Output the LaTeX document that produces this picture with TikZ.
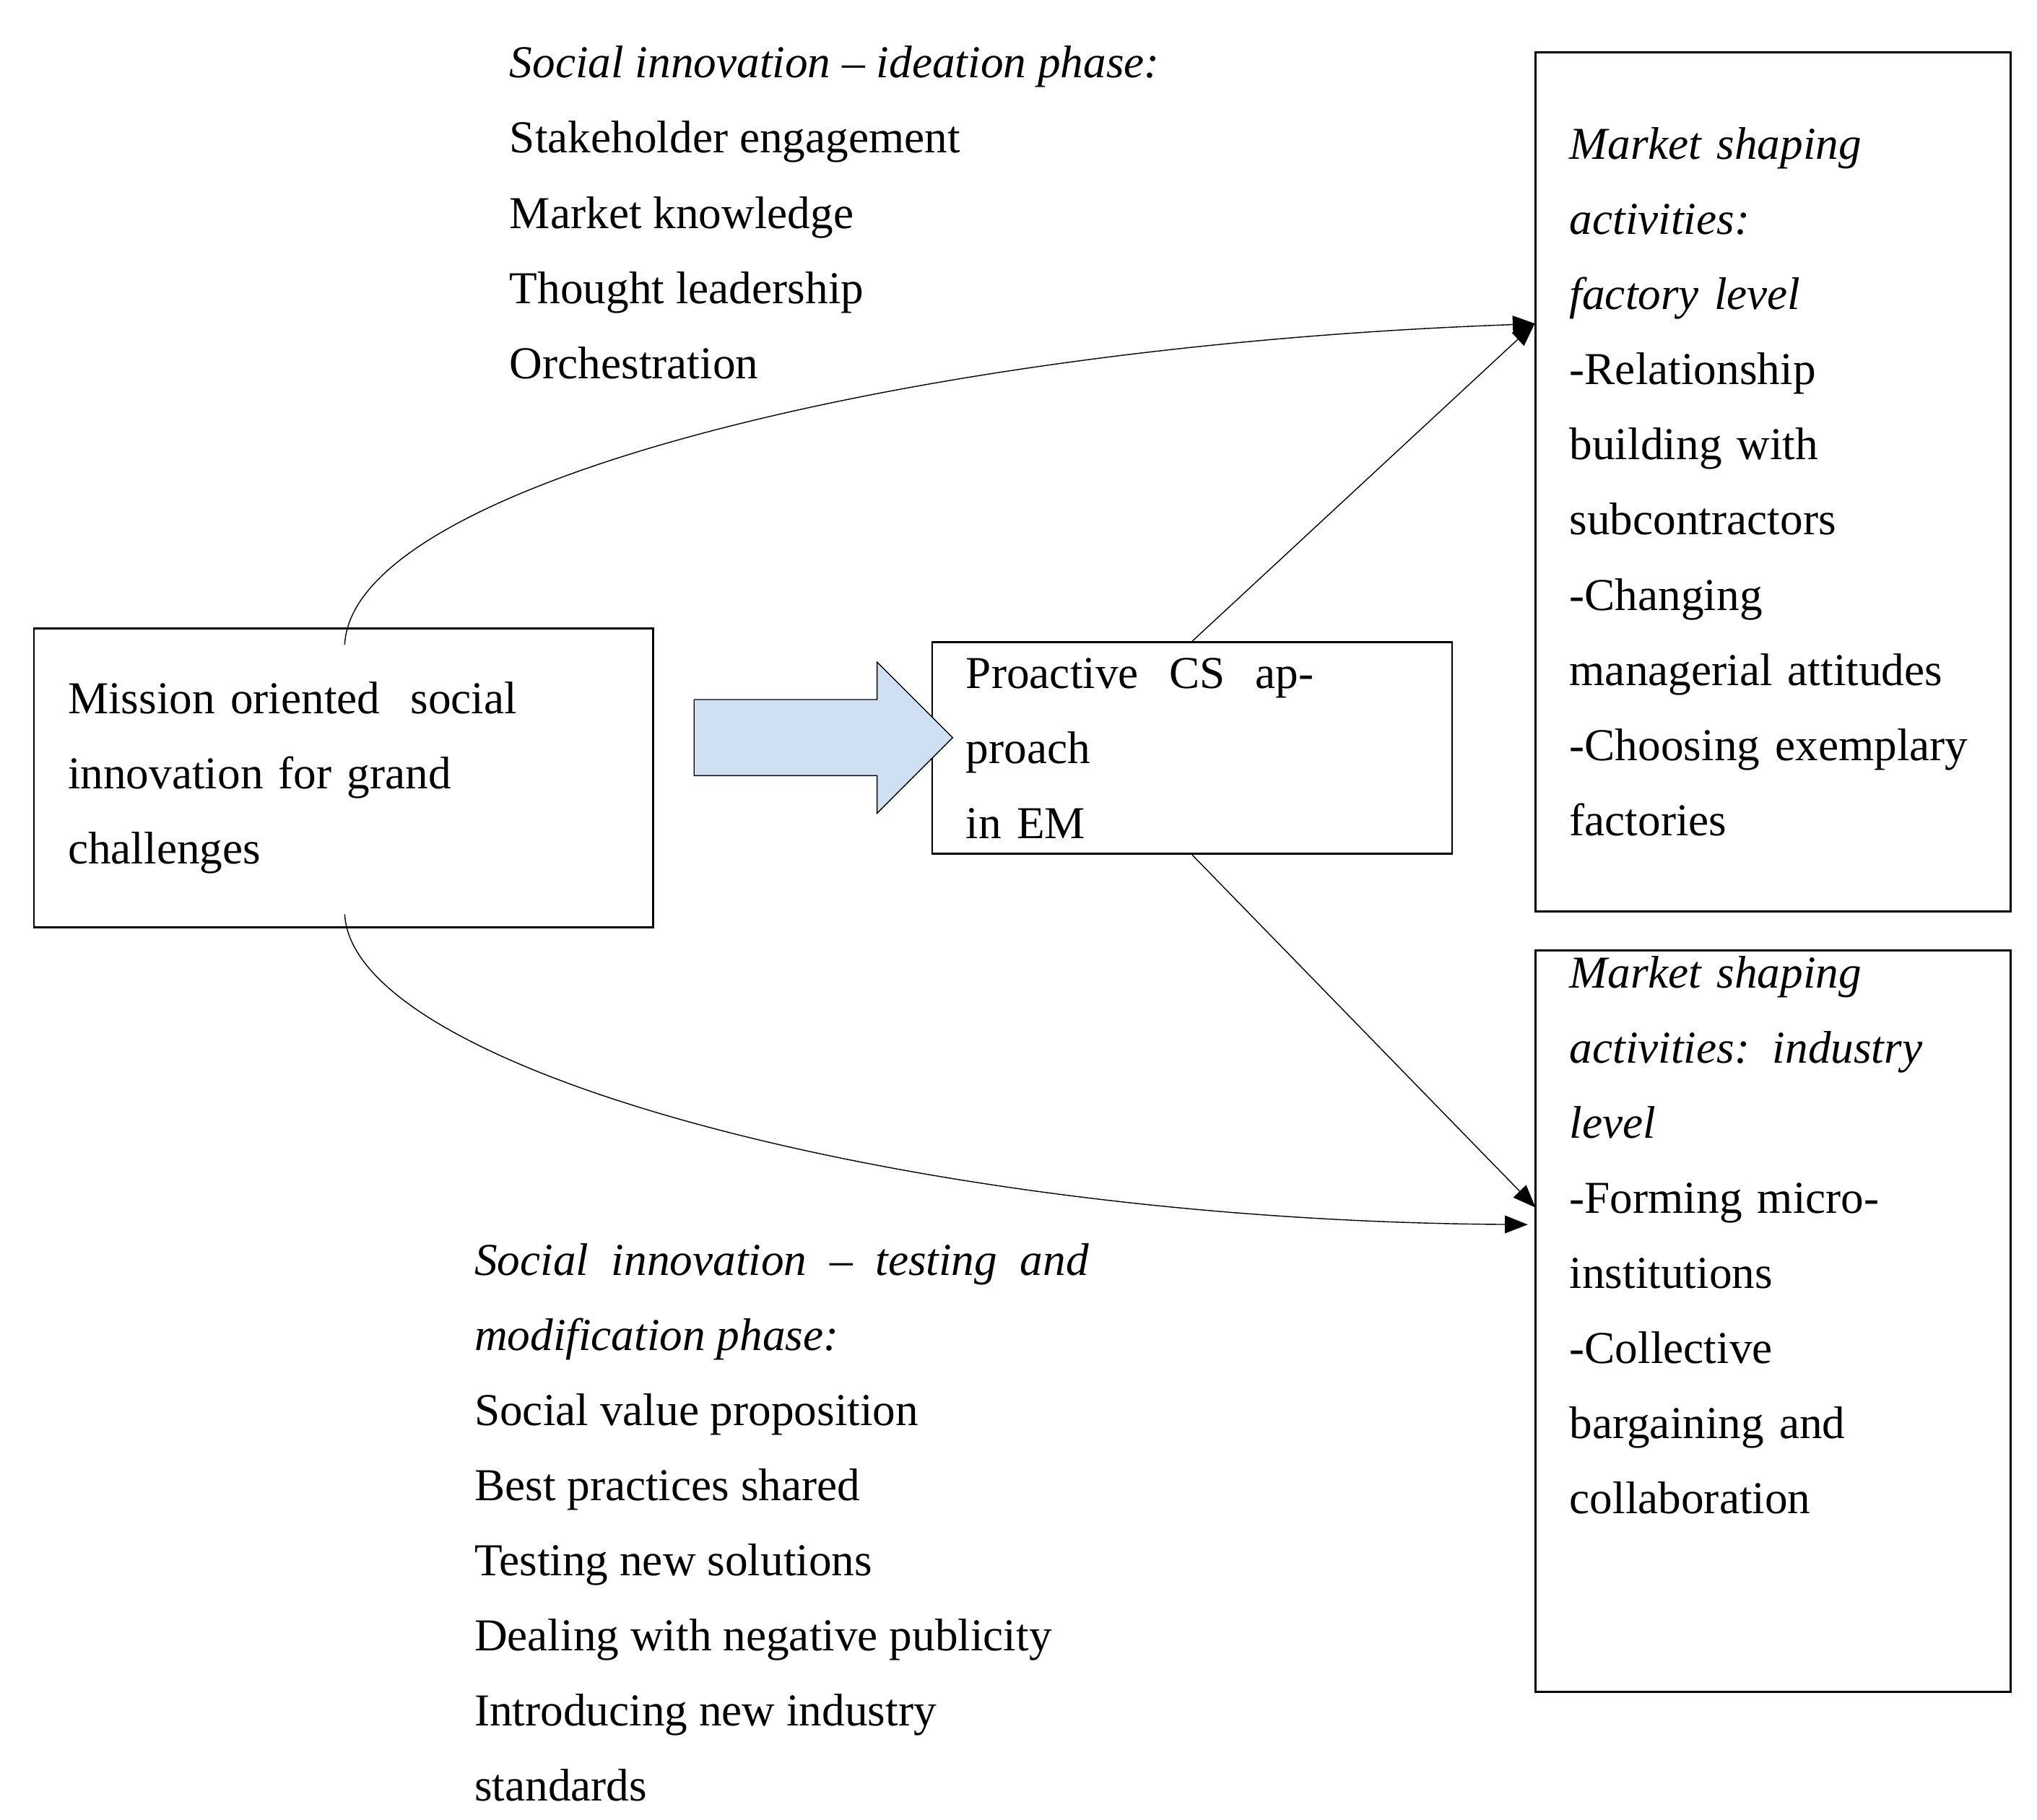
\documentclass[tikz,border=0pt]{standalone}
\usepackage{fontspec}
\setmainfont{Liberation Serif}
\usetikzlibrary{arrows.meta,shapes.arrows}
\definecolor{flowblue}{RGB}{207,224,242}
\begin{document}
\begin{tikzpicture}[x=0.01808cm,y=-0.01808cm]
  \tikzset{every node/.style={font=\fontsize{18}{29.6}\selectfont},
    box/.style={draw,thick,inner xsep=0.47cm,inner ysep=0pt,align=left},
    txt/.style={align=left,anchor=north west,inner sep=0pt},
    link/.style={thin,-{Triangle[length=9pt,width=7pt]}}}
  \useasboundingbox (0,0) rectangle (1560,1394);

  % Main boxes
  \node (mission) [box, minimum width=8.57cm, minimum height=4.14cm, text width=7.63cm] at (263,596)
        {Mission oriented \ social\\innovation for grand\\challenges};
  \node (proactive) [box, minimum width=7.2cm, minimum height=2.93cm, text width=6.26cm] at (913,573)
        {Proactive \ CS \ approach\\in EM};
  \node (factory) [box, minimum width=6.58cm, minimum height=11.9cm, text width=5.64cm] at (1358,369)
        {\textit{Market shaping}\\\textit{activities:}\\\textit{factory level}\\-Relationship\\building with\\subcontractors\\-Changing\\managerial attitudes\\-Choosing exemplary\\factories};
  \node (industry) [box, minimum width=6.58cm, minimum height=10.27cm, text width=5.64cm] at (1358,1012)
        {\textit{Market shaping}\\\textit{activities: industry}\\\textit{level}\\-Forming micro-\\institutions\\-Collective\\bargaining and\\collaboration\\[29.6pt]\strut};

  % Phase texts
  \node (ideation) [txt] at (390,35)
        {\textit{Social innovation -- ideation phase:}\\Stakeholder engagement\\Market knowledge\\Thought leadership\\Orchestration};
  \node (testing) [txt] at (363,952)
        {\textit{Social \ innovation \ -- \ testing \ and}\\\textit{modification phase:}\\Social value proposition\\Best practices shared\\Testing new solutions\\Dealing with negative publicity\\Introducing new industry\\standards};

  % Arrows
  \node (flow) [single arrow, draw, thin, fill=flowblue, minimum height=3.58cm,
        inner xsep=0pt, inner ysep=0.52cm, single arrow head extend=0.52cm] at (616,565) {};
  \coordinate (ftop) at (1176,248);
  \coordinate (fbot) at (1170,938);
  \draw[link] (mission.north) ++(1,13) .. controls (270,370) and (700,265) .. (ftop);
  \draw[link] (mission.south) ++(1,-11) .. controls (270,820) and (700,935) .. (fbot);
  \draw[link] (proactive.north) -- (factory.west |- ftop);
  \draw[link] (proactive.south) -- (1176,925);
\end{tikzpicture}
\end{document}
